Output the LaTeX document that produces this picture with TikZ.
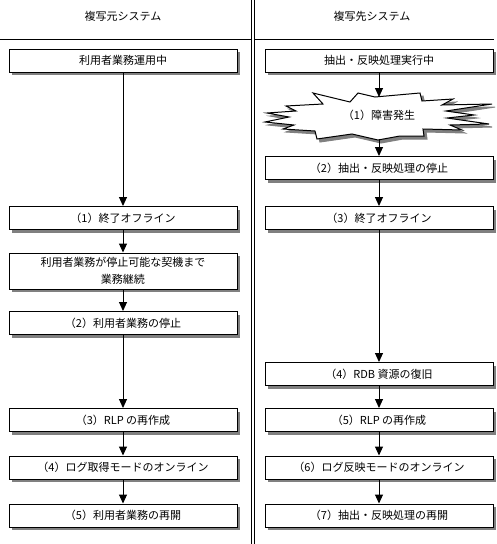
\documentclass[tikz,border=0pt]{standalone}
\usepackage{fontspec}
\newfontfamily\jpfont{Noto Sans CJK JP}
\usetikzlibrary{arrows.meta,shadows}

\begin{document}
\begin{tikzpicture}[x=1pt, y=-1pt,
        font=\jpfont\fontsize{11}{14}\selectfont,
        stepbox/.style={draw, fill=white, line width=1pt, minimum width=228pt, minimum height=23pt,
            inner sep=1pt, align=center,
            drop shadow={shadow xshift=3pt, shadow yshift=-3pt, fill=black!50, opacity=1}},
        flow/.style={line width=1pt, -{Triangle[width=8pt, length=9pt]}}]
    \def\lx{123}
    \def\rx{379}
    \useasboundingbox (0,0) rectangle (497,544);

    \node (srchead) at (\lx,16) {複写元システム};
    \node (dsthead) at (372,16) {複写先システム};
    \draw[line width=1pt] (0,39.5) -- (251.5,39.5) (254.5,39.5) -- (494,39.5);
    \draw[line width=1pt] (251.5,0) -- (251.5,544) (254.5,0) -- (254.5,544);

    % source side
    \node[stepbox] (l0) at (\lx,60.5) {利用者業務運用中};
    \node[stepbox] (l1) at (\lx,218) {（1）終了オフライン};
    \node[stepbox, minimum height=36pt, font=\jpfont\fontsize{11}{17}\selectfont] (l2) at (\lx,271)
        {利用者業務が停止可能な契機まで\\業務継続};
    \node[stepbox] (l3) at (\lx,323) {（2）利用者業務の停止};
    \node[stepbox] (l4) at (\lx,420) {（3）RLP の再作成};
    \node[stepbox] (l5) at (\lx,467.5) {（4）ログ取得モードのオンライン};
    \node[stepbox] (l6) at (\lx,515.5) {（5）利用者業務の再開};

    % target side
    \node[stepbox] (r0) at (\rx,60.5) {抽出・反映処理実行中};
    \foreach \off/\fc/\dc in {3/black!50/black!50, 0/white/black}
        \filldraw[fill=\fc, draw=\dc, line width=1pt, shift={(\off,\off)}]
            (313,93) -- (350,102) -- (358,93) -- (375,97) -- (420,93) -- (422,101) -- (453,99)
            -- (442,105) -- (492,104) -- (446,111) -- (474,115) -- (447,118) -- (489,124)
            -- (450,125) -- (462,130) -- (423,129) -- (424,136) -- (400,136) -- (378,140)
            -- (352,134) -- (317,139) -- (315,131) -- (283,129) -- (294,125) -- (265,122)
            -- (289,117) -- (267,113) -- (296,111) -- (286,106) -- (323,104) -- cycle;
    \node (fail) at (\rx,115) {（1）障害発生};
    \coordinate (failtop) at (\rx,97);
    \coordinate (failbot) at (\rx,139);
    \node[stepbox] (r2) at (\rx,168) {（2）抽出・反映処理の停止};
    \node[stepbox] (r3) at (\rx,218) {（3）終了オフライン};
    \node[stepbox] (r4) at (\rx,374) {（4）RDB 資源の復旧};
    \node[stepbox] (r5) at (\rx,420) {（5）RLP の再作成};
    \node[stepbox] (r6) at (\rx,467.5) {（6）ログ反映モードのオンライン};
    \node[stepbox] (r7) at (\rx,515.5) {（7）抽出・反映処理の再開};

    \foreach \a/\b in {l0/l1, l1/l2, l2/l3, l3/l4, l4/l5, l5/l6,
            r0/failtop, failbot/r2, r2/r3, r3/r4, r4/r5, r5/r6, r6/r7}
        \draw[flow] (\a) -- (\b);
\end{tikzpicture}
\end{document}
